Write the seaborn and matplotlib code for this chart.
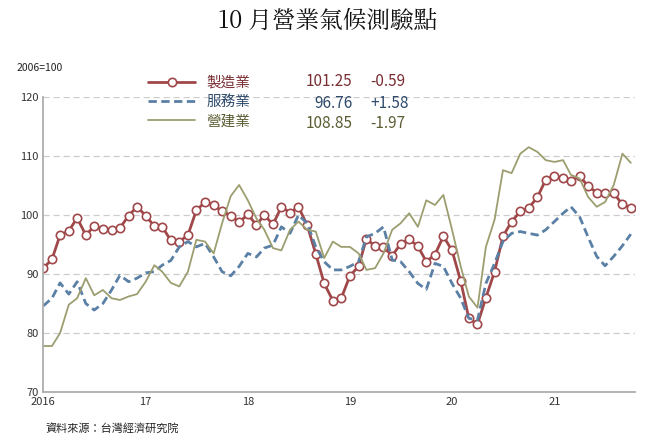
import matplotlib
matplotlib.use("Agg")
import matplotlib.pyplot as plt
import seaborn as sns
import pandas as pd

# monthly, 2016-01 .. 2021-10
manufacturing = [91.0, 92.5, 96.6, 97.3, 99.5, 96.6, 98.1, 97.6, 97.4, 97.8, 99.9, 101.4,
                 99.9, 98.1, 98.0, 95.7, 95.5, 96.6, 100.8, 102.2, 101.7, 100.6, 99.9, 98.8,
                 100.1, 98.3, 100.0, 98.4, 101.4, 100.4, 101.4, 98.3, 93.4, 88.4, 85.5, 85.9,
                 89.7, 91.3, 96.0, 94.7, 94.6, 93.1, 95.1, 95.9, 94.7, 92.1, 93.3, 96.4,
                 94.0, 88.8, 82.5, 81.5, 86.0, 90.4, 96.4, 98.9, 100.6, 101.2, 103.0, 106.0,
                 106.6, 106.3, 105.8, 106.6, 104.9, 103.8, 103.8, 103.7, 101.8, 101.25]
services = [84.6, 85.9, 88.5, 86.6, 88.7, 85.0, 83.9, 85.0, 87.3, 89.8, 88.7, 89.3,
            90.2, 90.4, 91.5, 92.3, 94.6, 95.5, 94.6, 95.2, 92.9, 90.4, 89.7, 91.3,
            93.5, 92.9, 94.4, 94.9, 98.0, 96.9, 100.0, 98.6, 94.6, 92.1, 90.7, 90.7,
            91.3, 92.1, 96.3, 96.9, 98.0, 92.4, 92.1, 90.4, 88.4, 87.4, 91.8, 91.3,
            88.4, 85.9, 82.5, 82.2, 88.4, 91.8, 95.5, 96.9, 97.2, 96.9, 96.6, 97.5,
            98.9, 100.3, 101.4, 99.7, 96.3, 93.0, 91.4, 93.0, 94.8, 96.76]
construction = [77.8, 77.8, 80.0, 84.8, 85.9, 89.3, 86.4, 87.3, 85.9, 85.6, 86.2, 86.6,
                88.7, 91.5, 90.4, 88.5, 87.9, 90.4, 95.8, 95.5, 93.5, 98.6, 103.2, 105.1,
                102.5, 99.4, 97.5, 94.4, 94.0, 97.5, 98.9, 97.5, 97.2, 92.7, 95.5, 94.6,
                94.6, 93.5, 90.7, 91.0, 93.5, 97.5, 98.6, 100.3, 98.0, 102.5, 101.7, 103.4,
                97.5, 91.3, 86.2, 84.3, 94.6, 99.2, 107.6, 107.1, 110.4, 111.5, 110.7, 109.3,
                109.0, 109.3, 106.8, 106.2, 103.1, 101.4, 102.2, 105.1, 110.4, 108.85]
names = ["製造業", "服務業", "營建業"]
latest = ["101.25", "96.76", "108.85"]
changes = ["-0.59", "+1.58", "-1.97"]
year_labels = ["2016", "17", "18", "19", "20", "21"]

dates = pd.date_range("2016-01-01", periods=len(manufacturing), freq="MS")
df = pd.DataFrame({"date": dates, "mfg": manufacturing, "svc": services, "con": construction})

sns.set_theme(style="white")
plt.rcParams["font.family"] = ["Noto Sans CJK TC", "DejaVu Sans"]

fig = plt.figure(figsize=(6.56, 4.43), dpi=100)
ax = fig.add_axes([0.066, 0.115, 0.902, 0.666])

mfg_c, svc_c, con_c = "#a0474a", "#5b80a6", "#9c9e70"
sns.lineplot(data=df, x="date", y="mfg", ax=ax, color=mfg_c, lw=2, marker="o",
             markersize=6, markerfacecolor="white", markeredgecolor=mfg_c,
             markeredgewidth=1.2, label=names[0])
sns.lineplot(data=df, x="date", y="svc", ax=ax, color=svc_c, lw=2, ls=(0, (3, 1.6)),
             label=names[1])
sns.lineplot(data=df, x="date", y="con", ax=ax, color=con_c, lw=1.3, label=names[2])

ax.set_ylim(70, 120)
ax.set_yticks(range(70, 121, 10))
ax.set_xlim(dates[0], dates[-1] + pd.Timedelta(days=15))
ax.set_xticks(pd.date_range("2016-01-01", periods=6, freq="YS"))
ax.set_xticklabels(year_labels)
ax.tick_params(labelsize=8, colors="#333333", length=0)
ax.grid(axis="y", ls=(0, (5, 3)), color="#cccccc", lw=0.9)
ax.set_xlabel("")
ax.set_ylabel("")
for s in ["top", "right"]:
    ax.spines[s].set_visible(False)
for s in ["left", "bottom"]:
    ax.spines[s].set_color("#aaaaaa")

ax.get_legend().remove()
h, l = ax.get_legend_handles_labels()
text_cols = ["#7a2e33", "#2e4a6b", "#5b5c32"]
leg = fig.legend(h, l, loc="upper left", bbox_to_anchor=(0.215, 0.845), frameon=False,
                 fontsize=10.5, handlelength=3.2, labelspacing=0.35, borderpad=0)
for t, c in zip(leg.get_texts(), text_cols):
    t.set_color(c)
for i in range(3):
    y = 1 - (82 + i * 21) / 443
    fig.text(0.537, y, latest[i], ha="right", va="center", fontsize=11, color=text_cols[i])
    fig.text(0.565, y, changes[i], ha="left", va="center", fontsize=11, color=text_cols[i])

fig.text(0.5, 0.955, "10 月營業氣候測驗點", ha="center", va="center", fontsize=17,
         family=["Noto Serif CJK TC", "Noto Sans CJK TC", "DejaVu Sans"], color="#111111")
fig.text(0.025, 0.84, "2006=100", fontsize=7.5, color="#222222")
fig.text(0.07, 0.025, "資料來源：台灣經濟研究院", fontsize=8, color="#222222")

fig.savefig("out.png", dpi=100)
